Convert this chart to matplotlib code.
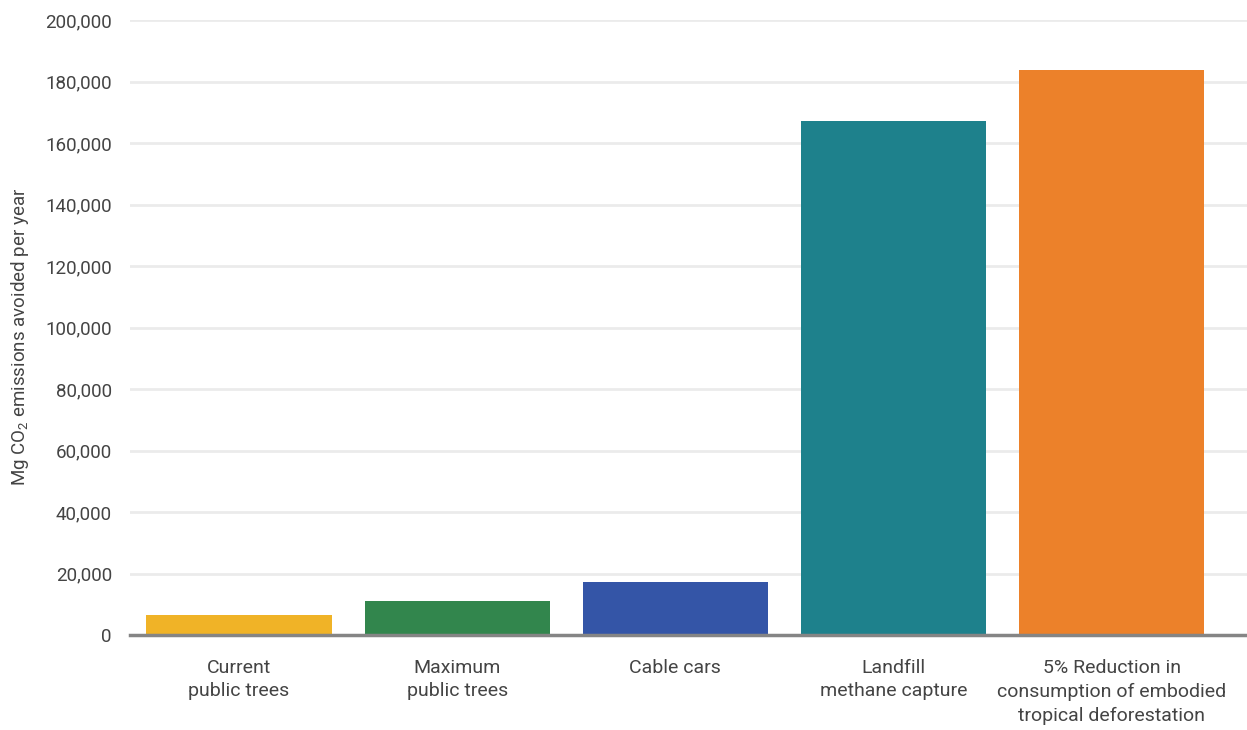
import matplotlib
matplotlib.use("Agg")
import matplotlib.pyplot as plt
from matplotlib.ticker import FuncFormatter

plt.rcParams['font.family'] = ['Roboto', 'DejaVu Sans']
plt.rcParams['mathtext.fontset'] = 'custom'
plt.rcParams['mathtext.rm'] = 'Roboto'
plt.rcParams['mathtext.it'] = 'Roboto'

categories = ["Current\npublic trees", "Maximum\npublic trees", "Cable cars",
              "Landfill\nmethane capture",
              "5% Reduction in\nconsumption of embodied\ntropical deforestation"]
values = [6500, 11000, 17300, 167300, 183900]
colors = ["#F0B327", "#32864D", "#3455A7", "#1E818C", "#EC812A"]
yticks = list(range(0, 200001, 20000))

fig = plt.figure(figsize=(12.47, 7.30), dpi=100)
ax = fig.add_axes([130/1247, 1 - 635/730, (1247 - 130)/1247, (635 - 20)/730])

x = list(range(len(categories)))
ax.bar(x, values, width=0.85, color=colors, zorder=3)
ax.set_xlim(-0.5, 4.62)
ax.set_ylim(0, 200000)
ax.set_yticks(yticks)
ax.yaxis.set_major_formatter(FuncFormatter(lambda v, p: f"{int(v):,}"))
ax.grid(axis='y', color='#EBEBEB', linewidth=2, zorder=0)
ax.set_xticks(x)
ax.set_xticklabels(categories, fontsize=14, color='#444444', linespacing=1.42)
ax.tick_params(axis='x', length=0, pad=17)
ax.tick_params(axis='y', length=0, pad=13, labelsize=13.5, labelcolor='#444444')
for s in ['top', 'right', 'left']:
    ax.spines[s].set_visible(False)
ax.spines['bottom'].set_color('#858585')
ax.spines['bottom'].set_linewidth(2.5)
ax.spines['bottom'].set_zorder(4)
ax.set_ylabel(r"Mg CO$_\mathrm{2}$ emissions avoided per year", fontsize=13.5,
              color='#444444', va='center')
ax.yaxis.set_label_coords((20 - 130) / 1117, (635 - 337) / 615)

fig.savefig("out.png", dpi=100)
